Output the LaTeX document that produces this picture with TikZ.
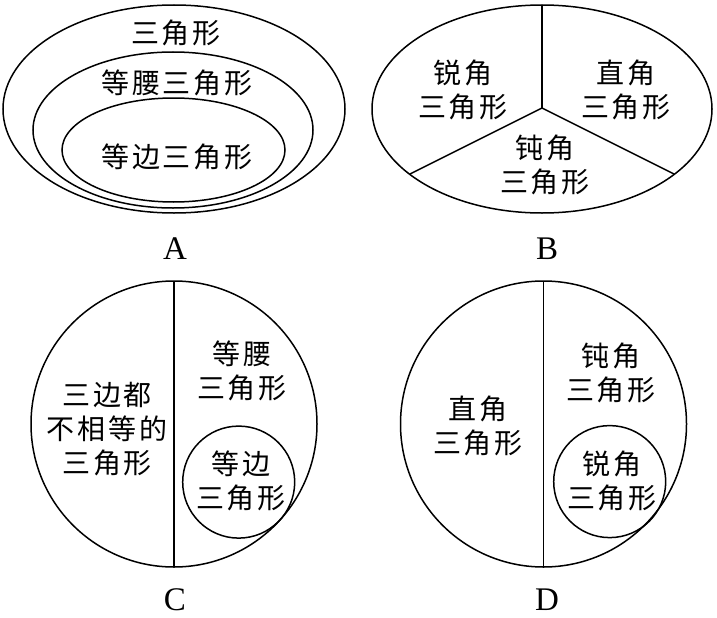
\documentclass[tikz,border=0pt]{standalone}
\usepackage{fontspec}
\setmainfont{Liberation Serif}
\newfontfamily\cjk[LetterSpace=10]{Noto Sans CJK SC}
\begin{document}
\begin{tikzpicture}[x=1pt,y=-1pt,
  line width=1.5pt,
  lab/.style={font=\cjk\fontsize{28}{34}\selectfont, align=center, inner sep=0pt},
  letter/.style={font=\fontsize{33}{33}\selectfont, inner sep=0pt}]
\useasboundingbox[fill=white] (0,0) rectangle (717,618);

% ---------- A ----------
\draw (174,109) ellipse [x radius=171pt, y radius=104pt];
\draw (173,130) ellipse [x radius=140pt, y radius=78pt];
\draw (173.5,150) ellipse [x radius=111.5pt, y radius=52pt];
\node[lab] (a1) at (176,33) {三角形};
\node[lab] (a2) at (177,83) {等腰三角形};
\node[lab] (a3) at (177,157) {等边三角形};
\node[letter] (la) at (175,249) {A};

% ---------- B ----------
\draw (542,109) ellipse [x radius=170pt, y radius=104pt];
\coordinate (Bc) at (542,108);
\coordinate (Bt) at (542,5);
\coordinate (Bl) at (410,174);
\coordinate (Br) at (674,174);
\draw (Bt) -- (Bc);
\draw (Bl) -- (Bc) -- (Br);
\node[lab] (b1) at (463,90) {锐角\\三角形};
\node[lab] (b2) at (626,90) {直角\\三角形};
\node[lab] (b3) at (545,165) {钝角\\三角形};
\node[letter] (lb) at (547,249) {B};

% ---------- C ----------
\draw (174,424) circle [radius=143pt];
\coordinate (Ct) at (174,281);
\coordinate (Cb) at (174,567);
\draw (Ct) -- (Cb);
\draw (238.7,482.1) circle [radius=56pt];
\node[lab] (c1) at (107,429) {三边都\\不相等的\\三角形};
\node[lab] (c2) at (242,371) {等腰\\三角形};
\node[lab] (c3) at (241,481) {等边\\三角形};
\node[letter] (lc) at (175,600) {C};

% ---------- D ----------
\draw (543.5,424) circle [radius=143pt];
\coordinate (Dt) at (543.5,281);
\coordinate (Db) at (543.5,567);
\draw (Dt) -- (Db);
\draw (609.7,481.6) circle [radius=56pt];
\node[lab] (d1) at (478,426) {直角\\三角形};
\node[lab] (d2) at (611,373) {钝角\\三角形};
\node[lab] (d3) at (612,481) {锐角\\三角形};
\node[letter] (ld) at (547,600) {D};
\end{tikzpicture}
\end{document}
